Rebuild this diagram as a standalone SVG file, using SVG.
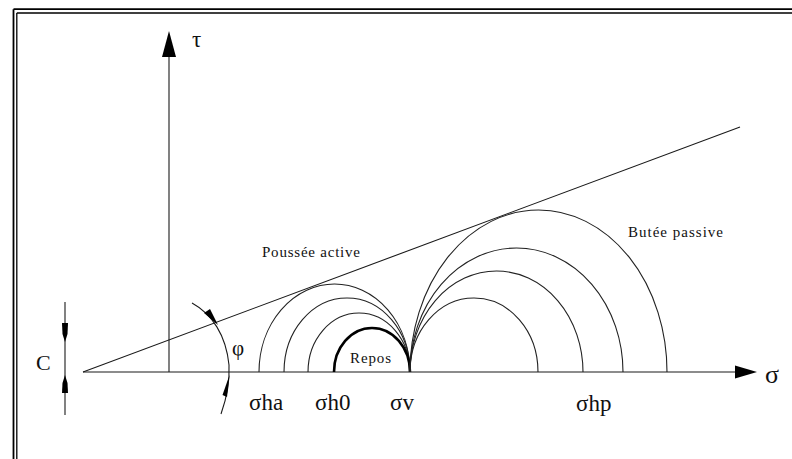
<svg xmlns="http://www.w3.org/2000/svg" width="792" height="459" viewBox="0 0 792 459">
<style>
.ln{fill:none;stroke:#1a1a1a;stroke-width:1.1}
.el{fill:none;stroke:#222;stroke-width:1.1}
.thick{fill:none;stroke:#000;stroke-width:2.6}
.ah{fill:#000;stroke:none}
.lbl{font-family:"Liberation Serif","Times New Roman",serif;fill:#111}
.big{font-size:23px}
.sm{font-size:15px}
</style>
<rect width="792" height="459" fill="#fff"/>
<g id="frame">
<line x1="13.5" y1="9.2" x2="792" y2="9.2" stroke="#000" stroke-width="1.8"/>
<line x1="13.5" y1="9.2" x2="13.5" y2="459" stroke="#000" stroke-width="1.8"/>
<line x1="16.8" y1="13" x2="792" y2="13" stroke="#000" stroke-width="1.3"/>
<line x1="16.8" y1="13" x2="16.8" y2="459" stroke="#000" stroke-width="1.3"/>
</g>
<g id="axes">
<line class="ln" x1="169" y1="56" x2="169" y2="372"/>
<polygon class="ah" points="169,31 176,57 162,57"/>
<line class="ln" x1="83" y1="372" x2="736" y2="372"/>
<polygon class="ah" points="757,372 735,365.5 735,378.5"/>
<text class="lbl big" x="192" y="47">τ</text>
<text class="lbl" x="765" y="383" style="font-size:26px">σ</text>
</g>
<g id="envelope">
<line class="ln" x1="83" y1="372" x2="740" y2="127"/>
</g>
<g id="circles-active">
<path class="el" d="M259,372 A75.5,88 0 0 1 410,372"/>
<path class="el" d="M284,372 A63,74 0 0 1 410,372"/>
<path class="el" d="M308,372 A51,59 0 0 1 410,372"/>
</g>
<g id="circle-repos">
<path class="thick" d="M334,372 A38,44 0 0 1 410,372"/>
</g>
<g id="circles-passive">
<path class="el" d="M410,372 A64,74 0 0 1 538,372"/>
<path class="el" d="M410,372 A86.5,101 0 0 1 583,372"/>
<path class="el" d="M410,372 A106.5,124 0 0 1 623,372"/>
<path class="el" d="M410,372 A128.5,162 0 0 1 667,372"/>
</g>
<g id="cohesion">
<line class="ln" x1="65" y1="302" x2="65" y2="415"/>
<polygon class="ah" points="62,323 68,323 67.5,334 65,342 62.5,334"/>
<polygon class="ah" points="62,393 68,393 67.5,383 65,375 62.5,383"/>
<text class="lbl" x="36" y="370" style="font-size:22px">C</text>
</g>
<g id="angle">
<path class="ln" d="M192,303 C212,314 226,335 229,365 C230,385 226,400 221,414"/>
<polygon class="ah" points="218,325 204,313 210,309"/>
<polygon class="ah" points="229.5,375 227,397 222.5,395"/>
<text class="lbl" x="232" y="355" style="font-size:21px">φ</text>
</g>
<g id="labels">
<text class="lbl sm" x="262" y="257" textLength="98" lengthAdjust="spacing">Poussée active</text>
<text class="lbl sm" x="628" y="237" textLength="95" lengthAdjust="spacing">Butée passive</text>
<text class="lbl sm" x="350" y="363" textLength="41" lengthAdjust="spacing">Repos</text>
<text class="lbl big" x="249" y="410">σha</text>
<text class="lbl big" x="315" y="410">σh0</text>
<text class="lbl big" x="390" y="410">σv</text>
<text class="lbl big" x="576" y="411">σhp</text>
</g>
</svg>
